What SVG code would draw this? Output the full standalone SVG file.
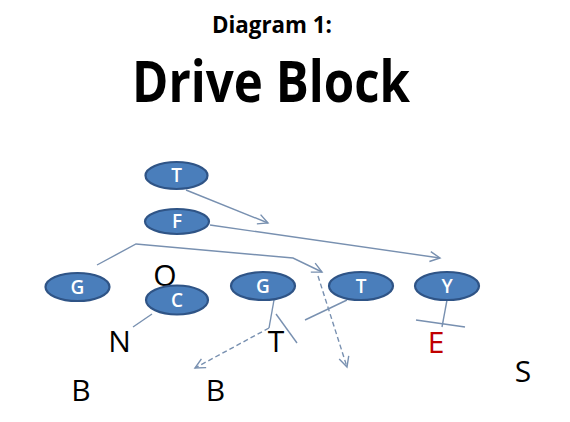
<svg xmlns="http://www.w3.org/2000/svg" width="570" height="422" viewBox="0 0 570 422">
<defs>
<style>
.title{font-family:"Open Sans","Liberation Sans",sans-serif;font-weight:bold;fill:#000;text-anchor:middle}
.node ellipse{fill:#4A7EBB;stroke:#2F5486;stroke-width:2.2}
.node text{font-family:"Open Sans","Liberation Sans",sans-serif;font-size:19px;font-weight:600;fill:#fff;text-anchor:middle}
.lbl{font-family:"Open Sans","Liberation Sans",sans-serif;font-size:30px;fill:#000;text-anchor:middle}
.ln{fill:none;stroke:#7890B0;stroke-width:1.4}
.dash{stroke-dasharray:5 3}
</style>
<marker id="ah" markerUnits="userSpaceOnUse" markerWidth="14" markerHeight="14" refX="11" refY="6" orient="auto">
<path d="M1,1 L11,6 L1,11" fill="none" stroke="#7890B0" stroke-width="1.4"/>
</marker>
</defs>
<rect width="570" height="422" fill="#fff"/>
<text class="title" x="272" y="33" font-size="23" textLength="120" lengthAdjust="spacingAndGlyphs">Diagram 1:</text>
<text class="title" x="271" y="102" font-size="58" textLength="278" lengthAdjust="spacingAndGlyphs">Drive Block</text>

<g id="connectors">
<line class="ln" x1="186" y1="190" x2="268" y2="223" marker-end="url(#ah)"/>
<line class="ln" x1="210" y1="225" x2="440" y2="258" marker-end="url(#ah)"/>
<polyline class="ln" points="97,265 136,244 293,258 322,272" marker-end="url(#ah)"/>
<line class="ln dash" x1="318" y1="276" x2="347" y2="367" marker-end="url(#ah)"/>
<line class="ln" x1="274" y1="300" x2="269" y2="328"/>
<line class="ln dash" x1="269" y1="328" x2="195" y2="368" marker-end="url(#ah)"/>
<line class="ln" x1="276" y1="314" x2="297" y2="343"/>
<line class="ln" x1="347" y1="300" x2="305" y2="320"/>
<line class="ln" x1="447" y1="300" x2="442" y2="327"/>
<line class="ln" x1="416" y1="320" x2="465" y2="327"/>
<line class="ln" x1="152" y1="314" x2="133" y2="327"/>
</g>

<text class="lbl" x="165" y="286" font-size="23">Q</text>

<g id="node-T-top" class="node"><ellipse cx="176.5" cy="175.5" rx="31" ry="13.5"/><text x="176.5" y="182">T</text></g>
<g id="node-F" class="node"><ellipse cx="177" cy="221.5" rx="32" ry="12.5"/><text x="177" y="228">F</text></g>
<g id="node-G-left" class="node"><ellipse cx="77.5" cy="287" rx="32" ry="14"/><text x="77.5" y="293.5">G</text></g>
<g id="node-C" class="node"><ellipse cx="177" cy="300" rx="31" ry="14.5"/><text x="177" y="306.5">C</text></g>
<g id="node-G-mid" class="node"><ellipse cx="263" cy="286" rx="32" ry="14"/><text x="263" y="292.5">G</text></g>
<g id="node-T-right" class="node"><ellipse cx="361" cy="286" rx="32" ry="14"/><text x="361" y="292.5">T</text></g>
<g id="node-Y" class="node"><ellipse cx="447" cy="286" rx="32" ry="14"/><text x="447" y="292.5">Y</text></g>

<g id="defenders">
<text class="lbl" x="119.5" y="352">N</text>
<text class="lbl" x="276" y="352">T</text>
<text class="lbl" x="436" y="353" style="fill:#C00000">E</text>
<text class="lbl" x="81" y="401">B</text>
<text class="lbl" x="215.5" y="401">B</text>
<text class="lbl" x="523" y="382">S</text>
</g>
</svg>
